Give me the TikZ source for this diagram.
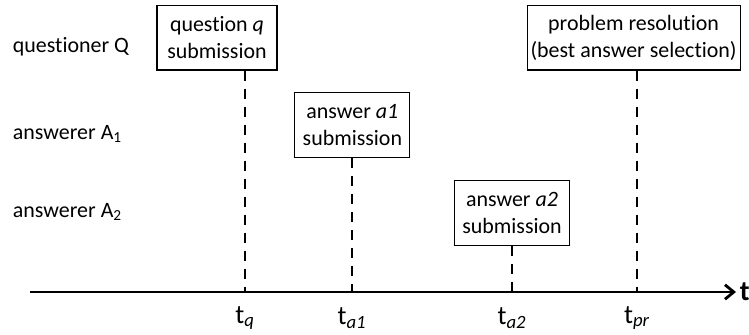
\documentclass[tikz,border=0pt]{standalone}
\usepackage{fontspec}
\setmainfont[Ligatures=NoCommon]{Carlito}
\usetikzlibrary{arrows.meta}
\tikzset{
	evbox/.style={draw,line width=0.8pt,align=center,minimum height=1.62cm,inner sep=2pt},
	vline/.style={line width=1.6pt,dash pattern=on 0.25cm off 0.2cm},
	who/.style={anchor=west},
	tlabel/.style={font=\fontsize{19pt}{21pt}\selectfont}
}
\begin{document}
\begin{tikzpicture}[font=\fontsize{15.6pt}{19pt}\selectfont]
	\useasboundingbox (0,0) rectangle (18.725,-8.375);

	% actors
	\node[who] (Q) at (0.2,-1.175) {questioner Q};
	\node[who] (A1) at (0.2,-3.35) {answerer A\textsubscript{1}};
	\node[who] (A2) at (0.2,-5.3) {answerer A\textsubscript{2}};

	% time axis
	\coordinate (start) at (0.75,-7.3);
	\coordinate (end) at (18.4,-7.3);
	\draw[line width=2pt,-{Straight Barb[length=0.22cm,width=0.36cm,line width=2pt]}] (start) -- (end);
	\node[font=\fontsize{20pt}{22pt}\selectfont\bfseries] (t) at (18.62,-7.3) {t};

	\coordinate (tq) at (6.125,-7.3);
	\coordinate (ta1) at (8.8,-7.3);
	\coordinate (ta2) at (12.8,-7.3);
	\coordinate (tpr) at (15.925,-7.3);

	% events
	\node[evbox,minimum width=3cm] (q) at (5.425,-0.94) {question \textit{q}\\submission};
	\node[evbox,minimum width=2.875cm] (a1) at (8.81,-3.125) {answer \textit{a1}\\submission};
	\node[evbox,minimum width=2.875cm] (a2) at (12.8,-5.325) {answer \textit{a2}\\submission};
	\node[evbox,minimum width=5.325cm] (pr) at (15.84,-0.94) {problem resolution\\(best answer selection)};

	\draw[vline] (tq |- q.south) -- (tq);
	\draw[vline] (ta1 |- a1.south) -- (ta1);
	\draw[vline] (ta2 |- a2.south) -- (ta2);
	\draw[vline] (tpr |- pr.south) -- (tpr);

	% time labels
	\node[tlabel] (lq) at (6.125,-7.95) {t\textsubscript{\textit{q}}};
	\node[tlabel] (la1) at (8.8,-7.95) {t\textsubscript{\textit{a1}}};
	\node[tlabel] (la2) at (12.8,-7.95) {t\textsubscript{\textit{a2}}};
	\node[tlabel] (lpr) at (15.925,-7.95) {t\textsubscript{\textit{pr}}};
\end{tikzpicture}
\end{document}
